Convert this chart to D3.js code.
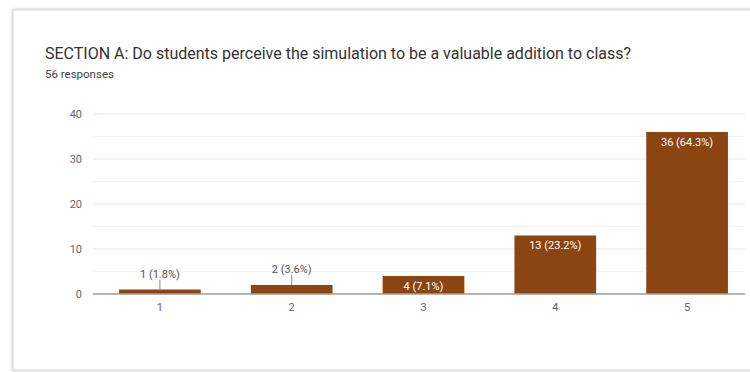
<!DOCTYPE html>
<html>
<head>
<meta charset="utf-8">
<script src="https://cdn.jsdelivr.net/npm/d3@7"></script>
<style>
  html, body { margin: 0; padding: 0; background: #fff; }
  svg { display: block; font-family: Roboto, "Noto Sans", Arial, sans-serif; }
</style>
</head>
<body>
<svg id="chart" width="750" height="372"></svg>
<script>
// Survey response counts on a 1–5 scale
const categories = ["1", "2", "3", "4", "5"];
const counts = [1, 2, 4, 13, 36];
const percents = ["1.8%", "3.6%", "7.1%", "23.2%", "64.3%"];
const yTicks = [0, 10, 20, 30, 40];
const minorTicks = [5, 15, 25, 35];
const title = "SECTION A: Do students perceive the simulation to be a valuable addition to class?";
const subtitle = "56 responses";

const svg = d3.select("#chart");

// Card with a soft shadow on the left and top edges
const defs = svg.append("defs");
const f = defs.append("filter").attr("id", "shadow").attr("x", "-5%").attr("y", "-5%").attr("width", "110%").attr("height", "110%");
f.append("feGaussianBlur").attr("in", "SourceAlpha").attr("stdDeviation", 1.5);
f.append("feOffset").attr("dx", 0).attr("dy", 0).attr("result", "b");
f.append("feFlood").attr("flood-color", "#000").attr("flood-opacity", 0.35);
f.append("feComposite").attr("in2", "b").attr("operator", "in");
const m = f.append("feMerge");
m.append("feMergeNode");
m.append("feMergeNode").attr("in", "SourceGraphic");

svg.append("rect")
  .attr("x", 13).attr("y", 10).attr("width", 800).attr("height", 360)
  .attr("fill", "#fff")
  .attr("stroke", "#dadada").attr("stroke-width", 1)
  .attr("filter", "url(#shadow)");

svg.append("text")
  .attr("x", 45).attr("y", 59)
  .attr("font-size", 16).attr("fill", "#333")
  .text(title);

svg.append("text")
  .attr("x", 45).attr("y", 78)
  .attr("font-size", 11.5).attr("fill", "#444")
  .text(subtitle);

// Scales
const plotLeft = 93, plotRight = 745;
const x = d3.scaleBand()
  .domain(categories)
  .range([94, 753])
  .paddingInner(0.38)
  .paddingOuter(0.19);

const y = d3.scaleLinear().domain([0, 40]).range([294, 114]);

// Gridlines
svg.append("g").selectAll("line").data(minorTicks).join("line")
  .attr("x1", plotLeft).attr("x2", plotRight)
  .attr("y1", d => y(d)).attr("y2", d => y(d))
  .attr("stroke", "#f3f3f3").attr("stroke-width", 1);

svg.append("g").selectAll("line").data(yTicks.filter(d => d > 0)).join("line")
  .attr("x1", plotLeft).attr("x2", plotRight)
  .attr("y1", d => y(d)).attr("y2", d => y(d))
  .attr("stroke", "#e6e6e6").attr("stroke-width", 1);

// Y axis labels
const yAxis = d3.axisLeft(y).tickValues(yTicks).tickSize(0).tickPadding(11);
const gy = svg.append("g").attr("transform", `translate(${plotLeft},0)`).call(yAxis);
gy.select(".domain").remove();
gy.selectAll("text").attr("font-size", 11).attr("fill", "#666").attr("font-family", "Roboto, Arial, sans-serif");

// Bars
const data = categories.map((c, i) => ({ cat: c, v: counts[i], p: percents[i] }));
svg.append("g").selectAll("rect").data(data).join("rect")
  .attr("x", d => x(d.cat))
  .attr("width", x.bandwidth())
  .attr("y", d => y(d.v))
  .attr("height", d => y(0) - y(d.v))
  .attr("fill", "#8b4513");

// Baseline / X axis
const xAxis = d3.axisBottom(x).tickSize(0).tickPadding(9);
const gx = svg.append("g").attr("transform", `translate(0,${y(0)})`).call(xAxis);
gx.select(".domain").remove();
gx.selectAll("text").attr("font-size", 11).attr("fill", "#666").attr("font-family", "Roboto, Arial, sans-serif");
svg.append("line")
  .attr("x1", plotLeft).attr("x2", plotRight)
  .attr("y1", y(0)).attr("y2", y(0))
  .attr("stroke", "#9e9e9e").attr("stroke-width", 1.5);

// Value labels: inside tall bars, above short bars with a leader line
const labels = svg.append("g");
data.forEach(d => {
  const cx = x(d.cat) + x.bandwidth() / 2;
  const top = y(d.v);
  const h = y(0) - top;
  const txt = `${d.v} (${d.p})`;
  if (h >= 16) {
    labels.append("text")
      .attr("x", cx).attr("y", top + 13.5)
      .attr("text-anchor", "middle")
      .attr("font-size", 11).attr("fill", "#fff")
      .text(txt);
  } else {
    const base = top - 12;
    labels.append("line")
      .attr("x1", cx).attr("x2", cx)
      .attr("y1", base + 2).attr("y2", top)
      .attr("stroke", "#888").attr("stroke-width", 1);
    labels.append("text")
      .attr("x", cx).attr("y", base)
      .attr("text-anchor", "middle")
      .attr("font-size", 11).attr("fill", "#555")
      .text(txt);
  }
});
</script>
</body>
</html>
